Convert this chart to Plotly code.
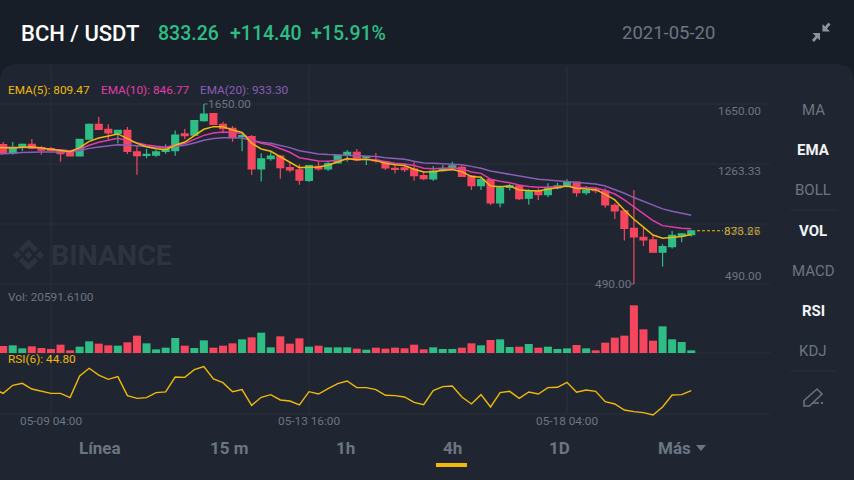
import pandas as pd
import plotly.graph_objects as go

W = 854
H = 480

# first row is the candle just left of the visible area
dates = pd.date_range('2021-05-08 04:00', periods=74, freq='4h')

opens = [1360,
         1388, 1334, 1377, 1390, 1368, 1362, 1353, 1343, 1315, 1424,
         1519, 1487, 1461, 1480, 1341, 1319, 1321, 1345, 1349, 1457,
         1450, 1543, 1588, 1519, 1493, 1439, 1440, 1231, 1298, 1315,
         1240, 1225, 1158, 1248, 1231, 1270, 1321, 1339, 1306, 1289,
         1279, 1236, 1238, 1231, 1188, 1167, 1221, 1233, 1242, 1186,
         1124, 1162, 1012, 1113, 1122, 1043, 1085, 1066, 1109, 1122,
         1146, 1079, 1096, 1088, 997, 961, 849, 791, 774, 695,
         731, 800, 808]
closes = [1388,
          1334, 1371, 1390, 1364, 1353, 1351, 1330, 1315, 1422, 1519,
          1487, 1463, 1480, 1345, 1317, 1326, 1341, 1358, 1450, 1446,
          1543, 1585, 1519, 1491, 1433, 1446, 1231, 1296, 1315, 1240,
          1225, 1160, 1253, 1231, 1266, 1317, 1339, 1289, 1311, 1283,
          1238, 1229, 1227, 1188, 1169, 1218, 1229, 1251, 1184, 1124,
          1162, 1012, 1109, 1122, 1040, 1088, 1066, 1111, 1122, 1148,
          1079, 1092, 1092, 1000, 961, 849, 793, 774, 695, 731,
          804, 813, 833.26]
highs = [1395,
         1405, 1405, 1396, 1424, 1379, 1373, 1358, 1353, 1422, 1525,
         1566, 1519, 1480, 1502, 1379, 1360, 1353, 1390, 1480, 1489,
         1543, 1650, 1588, 1536, 1508, 1461, 1450, 1332, 1339, 1321,
         1278, 1261, 1257, 1278, 1278, 1321, 1354, 1360, 1315, 1334,
         1285, 1261, 1261, 1281, 1208, 1251, 1257, 1278, 1257, 1193,
         1182, 1167, 1124, 1135, 1128, 1101, 1107, 1139, 1143, 1165,
         1146, 1122, 1113, 1107, 1010, 961, 1096, 853, 806, 746,
         832, 817, 834]
lows = [1340,
        1332, 1323, 1347, 1358, 1323, 1343, 1278, 1311, 1315, 1422,
        1482, 1411, 1396, 1328, 1194, 1300, 1308, 1330, 1317, 1424,
        1444, 1536, 1515, 1461, 1407, 1345, 1193, 1150, 1285, 1169,
        1210, 1130, 1147, 1220, 1218, 1268, 1278, 1281, 1257, 1272,
        1225, 1203, 1212, 1156, 1158, 1154, 1214, 1225, 1182, 1096,
        1096, 999, 984, 1092, 1032, 1000, 1032, 1049, 1101, 1113,
        1053, 1064, 1075, 982, 909, 770, 490, 735, 692, 602,
        718, 759, 796]

ema5 = [1371, 1369, 1366, 1371, 1375, 1366, 1358, 1347, 1343, 1369, 1409,
        1431, 1446, 1457, 1427, 1396, 1375, 1362, 1356, 1384, 1405,
        1444, 1487, 1504, 1504, 1482, 1467, 1397, 1360, 1345, 1311,
        1276, 1240, 1242, 1244, 1255, 1278, 1298, 1291, 1294, 1285,
        1268, 1259, 1253, 1229, 1212, 1214, 1223, 1227, 1214, 1182,
        1178, 1122, 1117, 1122, 1096, 1092, 1090, 1101, 1111, 1122,
        1107, 1101, 1098, 1068, 1032, 967, 907, 856, 806, 785,
        789, 796, 809.47]
ema10 = [1375, 1371, 1369, 1369, 1369, 1364, 1358, 1353, 1349, 1358, 1384,
         1403, 1418, 1429, 1414, 1399, 1386, 1377, 1371, 1384, 1396,
         1422, 1448, 1463, 1469, 1467, 1461, 1418, 1397, 1386, 1364,
         1339, 1304, 1294, 1283, 1281, 1287, 1294, 1294, 1294, 1289,
         1279, 1268, 1263, 1253, 1236, 1233, 1236, 1238, 1233, 1212,
         1203, 1165, 1152, 1143, 1128, 1118, 1113, 1113, 1118, 1122,
         1113, 1111, 1109, 1092, 1070, 1032, 989, 946, 899, 866,
         856, 849, 846.77]
ema20 = [1326, 1328, 1332, 1338, 1341, 1341, 1341, 1341, 1341, 1349, 1364,
         1373, 1381, 1388, 1386, 1379, 1373, 1369, 1369, 1377, 1384,
         1399, 1416, 1427, 1433, 1433, 1431, 1414, 1403, 1397, 1384,
         1369, 1349, 1339, 1328, 1324, 1321, 1321, 1319, 1315, 1311,
         1304, 1298, 1294, 1281, 1270, 1268, 1266, 1263, 1259, 1248,
         1236, 1218, 1208, 1197, 1189, 1176, 1165, 1161, 1156, 1150,
         1143, 1139, 1135, 1122, 1101, 1075, 1047, 1021, 995, 974,
         959, 944, 933.30]

volumes = [40000,
           54050, 59200, 36000, 51500, 38600, 30900, 64300, 20600, 48900, 90100,
           72100, 59200, 56600, 82400, 133800, 74600, 28300, 41200, 115800, 56600,
           38600, 97800, 41200, 56600, 74600, 105500, 121000, 157000, 43800, 128700,
           72100, 113300, 48900, 56600, 43800, 43800, 43800, 33500, 25700, 41200,
           33500, 41200, 36000, 64300, 28300, 43800, 30900, 30900, 41200, 74600,
           59200, 100400, 105500, 46300, 48900, 69500, 41200, 48900, 30900, 36000,
           61800, 36000, 20600, 79800, 118400, 133800, 368100, 182800, 95200, 205900,
           105500, 84900, 20591.61]

rsi6 = [47.2, 40.9, 52.6, 55.5, 47.2, 44.3, 40.9, 40.9, 34.6, 66.2, 77.4,
        67.6, 61.3, 65.2, 37.5, 33.6, 34.6, 41.9, 42.9, 64.7, 64.2,
        75.4, 79.8, 61.8, 56.5, 43.3, 46.3, 23.4, 35.1, 39.0, 31.2,
        29.7, 23.9, 43.3, 39.9, 47.7, 55.0, 58.9, 49.2, 49.2, 46.3,
        38.0, 37.5, 35.6, 27.8, 24.4, 44.8, 50.6, 51.6, 35.6, 25.4,
        39.0, 21.0, 41.9, 43.8, 33.6, 42.9, 39.9, 49.2, 49.7, 57.0,
        42.4, 45.8, 43.8, 28.8, 25.4, 16.6, 14.2, 12.7, 9.3, 21.0,
        38.5, 39.0, 44.8]

price_grid = [1650, 1263.33, 876.67, 490]
price_labels = ['1650.00', '1263.33', '876.67', '490.00']
price_label_y = [111, 171, 231, 276]
time_ticks = ['2021-05-09 04:00', '2021-05-13 16:00', '2021-05-18 04:00']
time_labels = ['05-09 04:00', '05-13 16:00', '05-18 04:00']

side_labels = ['MA', 'EMA', 'BOLL', 'VOL', 'MACD', 'RSI', 'KDJ']
side_active = ['EMA', 'VOL', 'RSI']
side_y = [110, 150, 190, 231, 271, 311, 351]
tab_labels = ['Línea', '15 m', '1h', '4h', '1D', 'Más']
tab_x = [100, 229, 345, 452, 559, 674]

HEADER_BG = '#181e27'
PANEL_BG = '#1f2631'
GRID = '#2a303b'
GREEN = '#2ebd85'
RED = '#f6465d'
YELLOW = '#f0b90b'
PINK = '#e03ca8'
PURPLE = '#8a5db8'
GRAY = '#6c7583'
FONT = 'Roboto'


def px_x(x):
    return x / W


def px_y(y):
    return 1 - y / H


def px_path(points, close=True):
    parts = ['%s%.4f,%.4f' % ('L' if n else 'M', px_x(p[0]), px_y(p[1])) for n, p in enumerate(points)]
    return ' '.join(parts) + (' Z' if close else '')


def label(text, x, y, color=GRAY, size=11.8, anchor='left', weight=400, opacity=1):
    return dict(text=text, x=px_x(x), y=px_y(y), xref='paper', yref='paper', xanchor=anchor, yanchor='middle',
                showarrow=False, font=dict(family=FONT, size=size, color=color, weight=weight),
                borderpad=0, borderwidth=0, opacity=opacity)


def hline(y, x0=0, x1=770, color=GRID, width=1):
    return dict(type='line', xref='paper', yref='paper', x0=px_x(x0), x1=px_x(x1), y0=px_y(y), y1=px_y(y),
                line=dict(color=color, width=width), layer='below')


def blob(points, color):
    return dict(type='path', xref='paper', yref='paper', path=px_path(points), fillcolor=color,
                line=dict(width=0), layer='below')


fig = go.Figure()
fig.add_trace(go.Candlestick(x=dates, open=opens, high=highs, low=lows, close=closes, yaxis='y',
                             increasing=dict(line=dict(color=GREEN, width=1.2), fillcolor=GREEN),
                             decreasing=dict(line=dict(color=RED, width=1.2), fillcolor=RED),
                             hoverinfo='skip'))
for values, color in [(ema20, PURPLE), (ema10, PINK), (ema5, YELLOW)]:
    fig.add_trace(go.Scatter(x=dates, y=values, mode='lines', yaxis='y', line=dict(color=color, width=1.5)))

bar_colors = [GREEN if c >= o else RED for o, c in zip(opens, closes)]
fig.add_trace(go.Bar(x=dates, y=volumes, yaxis='y2', marker=dict(color=bar_colors, line=dict(width=0))))
fig.add_trace(go.Scatter(x=dates, y=rsi6, mode='lines', yaxis='y3', line=dict(color=YELLOW, width=1.4)))

shapes = [
    # rounded chart panel
    dict(type='path', xref='paper', yref='paper', fillcolor=PANEL_BG, line=dict(width=0), layer='below',
         path='M0,0 L0,%.4f Q0,%.4f %.4f,%.4f L%.4f,%.4f Q1,%.4f 1,%.4f L1,0 Z' % (
             px_y(82), px_y(64), px_x(18), px_y(64), px_x(836), px_y(64), px_y(64), px_y(82))),
    hline(353),
    hline(414),
    hline(210, 790, 836),
    hline(371, 790, 836),
    # last price dashes
    dict(type='line', xref='paper', yref='y', x0=px_x(697), x1=px_x(723), y0=closes[-1], y1=closes[-1],
         line=dict(color=YELLOW, width=1.2, dash='3px,2px')),
    # ticks next to the high and low tags
    dict(type='line', xref='x', yref='y', x0=dates[22], x1='2021-05-11 21:40', y0=1650, y1=1650,
         line=dict(color=GRAY, width=1)),
    dict(type='line', xref='x', yref='y', x0=dates[67], x1='2021-05-19 06:45', y0=490, y1=490,
         line=dict(color=GRAY, width=1)),
    # selected tab
    blob([(436, 463), (467, 463), (467, 467), (436, 467)], YELLOW),
    # triangle next to Más
    blob([(696, 445), (706, 445), (701, 451)], GRAY),
    # collapse icon
    blob([(822.5, 31.5), (822.5, 24), (825, 26.5), (828.5, 22.5), (830.5, 24.5), (827, 28.5), (830, 31.5)], '#8b93a1'),
    blob([(820, 33), (820, 40.5), (817.5, 38), (814, 42), (812, 40), (815.5, 36), (812.5, 33)], '#8b93a1'),
    # pencil icon
    dict(type='path', xref='paper', yref='paper', path=px_path([(804, 406), (804, 400.5), (817, 389), (822, 394), (809.5, 406)]),
         line=dict(color='#6a7280', width=1.6), layer='below'),
    dict(type='path', xref='paper', yref='paper', path=px_path([(812, 403), (819, 403)], close=False),
         line=dict(color='#6a7280', width=1.6), layer='below'),
    blob([(821, 402), (823, 402), (823, 404), (821, 404)], '#6a7280'),
]

for price in price_grid:
    shapes.append(dict(type='line', xref='paper', yref='y', x0=0, x1=px_x(770), y0=price, y1=price,
                       line=dict(color=GRID, width=1), layer='below'))
for tick in time_ticks:
    shapes.append(dict(type='line', xref='x', yref='paper', x0=tick, x1=tick, y0=px_y(414), y1=px_y(66),
                       line=dict(color=GRID, width=1), layer='below'))

# watermark logo
WM = '#2e343f'
cx = 28.5
cy = 255
shapes.append(blob([(cx, cy - 4), (cx + 4, cy), (cx, cy + 4), (cx - 4, cy)], WM))
shapes.append(blob([(cx - 15.5, cy), (cx - 11.5, cy - 4), (cx - 7.5, cy), (cx - 11.5, cy + 4)], WM))
shapes.append(blob([(cx + 15.5, cy), (cx + 11.5, cy - 4), (cx + 7.5, cy), (cx + 11.5, cy + 4)], WM))
shapes.append(blob([(cx, cy - 15.5), (cx + 9.5, cy - 6), (cx + 6, cy - 2.5), (cx, cy - 8.5), (cx - 6, cy - 2.5), (cx - 9.5, cy - 6)], WM))
shapes.append(blob([(cx, cy + 15.5), (cx + 9.5, cy + 6), (cx + 6, cy + 2.5), (cx, cy + 8.5), (cx - 6, cy + 2.5), (cx - 9.5, cy + 6)], WM))

annotations = [
    label('BINANCE', 51, 255, WM, 28.5, weight=700),
    label('BCH / USDT', 21, 34, '#ffffff', 22, weight=500),
    label('833.26', 158, 34, GREEN, 19.5, weight=500),
    label('+114.40', 230, 34, GREEN, 19.5, weight=500),
    label('+15.91%', 311, 34, GREEN, 19.5, weight=500),
    label('2021-05-20', 622, 33, GRAY, 18.5),
    label('EMA(5): 809.47', 8, 90, YELLOW),
    label('EMA(10): 846.77', 101, 90, PINK),
    label('EMA(20): 933.30', 200, 90, PURPLE),
    label('Vol: 20591.6100', 8, 297),
    label('RSI(6): 44.80', 8, 359, YELLOW),
    label('1650.00', 208, 104),
    label('490.00', 631, 284, anchor='right'),
]
for text, y in zip(price_labels, price_label_y):
    annotations.append(label(text, 761, y, anchor='right'))
# last price sits right on top of the 876.67 tick, both stay readable through each other
annotations.append(label('833.26', 761, 231, YELLOW, anchor='right', opacity=0.75))
for tick, text in zip(time_ticks, time_labels):
    annotations.append(dict(text=text, x=tick, xref='x', y=px_y(421), yref='paper', xanchor='center', yanchor='middle',
                            showarrow=False, font=dict(family=FONT, size=11.8, color=GRAY)))
for text, y in zip(side_labels, side_y):
    active = text in side_active
    annotations.append(label(text, 813, y, '#f2f3f5' if active else GRAY, 15, anchor='center', weight=700 if active else 400))
for text, x in zip(tab_labels, tab_x):
    annotations.append(label(text, x, 448, GRAY, 17, anchor='center', weight=700))

fig.update_layout(
    width=W, height=H, autosize=False, showlegend=False, hovermode=False,
    margin=dict(l=0, r=0, t=0, b=0, pad=0),
    paper_bgcolor=HEADER_BG, plot_bgcolor='rgba(0,0,0,0)',
    boxgap=0.28, boxgroupgap=0, bargap=0.16,
    xaxis=dict(type='date', domain=[0, px_x(770)], range=['2021-05-08 06:40', '2021-05-21 16:58'],
               showgrid=False, zeroline=False, showticklabels=False, showline=False, ticks='',
               rangeslider=dict(visible=False), anchor='y3'),
    # price axis: 1650 sits at y=104 and 490 at y=284
    yaxis=dict(domain=[px_y(290), px_y(90)], range=[451.3, 1740.2], showgrid=False, zeroline=False,
               showticklabels=False, ticks=''),
    yaxis2=dict(domain=[px_y(353), px_y(300)], range=[0, 409300], showgrid=False, zeroline=False,
                showticklabels=False, ticks=''),
    yaxis3=dict(domain=[px_y(420), px_y(360)], range=[2.0, 89.5], showgrid=False, zeroline=False,
                showticklabels=False, ticks=''),
    shapes=shapes,
    annotations=annotations,
)

fig.write_html("out.html", config=dict(displayModeBar=False),
               post_script="document.body.style.margin='0';document.body.style.overflow='hidden';"
                           "document.body.style.background='%s';" % HEADER_BG)
